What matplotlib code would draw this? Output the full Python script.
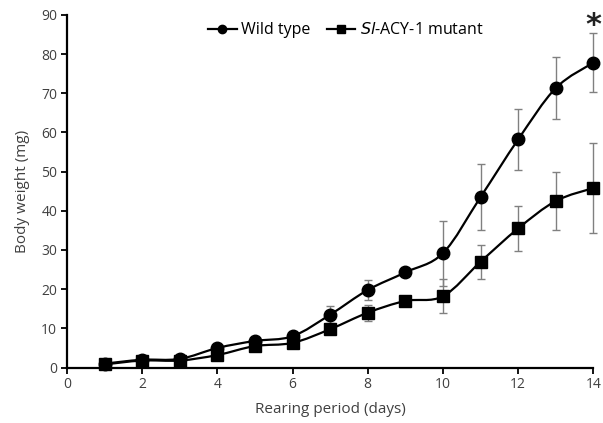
import numpy as np
import matplotlib.pyplot as plt
from matplotlib.path import Path
from matplotlib.patches import PathPatch

plt.rcParams['font.family'] = ['Open Sans', 'DejaVu Sans']

days = [1, 2, 3, 4, 5, 6, 7, 8, 9, 10, 11, 12, 13, 14]
wild = [1.0, 2.0, 2.2, 5.0, 6.8, 8.0, 13.5, 19.8, 24.3, 29.2, 43.5, 58.2, 71.3, 77.8]
wild_err = [0.3, 0.4, 0.5, 0.6, 0.6, 0.8, 2.2, 2.5, 0.8, 8.3, 8.5, 7.7, 8.0, 7.5]
mutant = [0.8, 1.8, 1.8, 3.2, 5.5, 6.3, 9.8, 14.0, 17.0, 18.2, 27.0, 35.5, 42.5, 45.8]
mutant_err = [0.3, 0.4, 0.4, 0.5, 0.6, 0.7, 1.0, 2.0, 1.0, 4.3, 4.3, 5.8, 7.3, 11.5]


def smooth_path(x, y):
    """Excel-style smoothed line through the points (cubic Bezier)."""
    x = np.asarray(x, float)
    y = np.asarray(y, float)
    verts = [(x[0], y[0])]
    codes = [Path.MOVETO]
    n = len(x)
    for i in range(n - 1):
        i0 = max(i - 1, 0)
        i3 = min(i + 2, n - 1)
        c1 = (x[i] + (x[i + 1] - x[i0]) / 6, y[i] + (y[i + 1] - y[i0]) / 6)
        c2 = (x[i + 1] - (x[i3] - x[i]) / 6, y[i + 1] - (y[i3] - y[i]) / 6)
        verts += [c1, c2, (x[i + 1], y[i + 1])]
        codes += [Path.CURVE4] * 3
    return Path(verts, codes)


fig = plt.figure(figsize=(6.03, 4.23), dpi=100)
ax = fig.add_axes([0.111, 0.131, 0.873, 0.834])

for ys, es in [(wild, wild_err), (mutant, mutant_err)]:
    eb = ax.errorbar(days, ys, yerr=es, fmt='none', ecolor='#808080',
                     elinewidth=1, capsize=3, capthick=1, zorder=2)
    for art in eb.lines[1] + eb.lines[2]:
        art.set_clip_on(False)

ax.add_patch(PathPatch(smooth_path(days, wild), fill=False, lw=1.6,
                       edgecolor='black', zorder=3, clip_on=False))
ax.add_patch(PathPatch(smooth_path(days, mutant), fill=False, lw=1.6,
                       edgecolor='black', zorder=3, clip_on=False))
ax.plot(days, wild, 'o', color='black', ms=9, zorder=4, clip_on=False)
ax.plot(days, mutant, 's', color='black', ms=9, zorder=4, clip_on=False)

# legend handles
ax.plot([], [], '-o', color='black', lw=1.6, ms=6, label='Wild type')
ax.plot([], [], '-s', color='black', lw=1.6, ms=6,
        label='$\\mathit{Sl}$-ACY-1 mutant')
ax.legend(loc='upper center', bbox_to_anchor=(0.53, 1.02), ncol=2,
          frameon=False, fontsize=11.5, handlelength=1.8, handletextpad=0.3,
          columnspacing=1.0, labelcolor='black')

ax.text(14, 87.3, '*', ha='center', va='center', fontsize=22,
        fontweight='bold', color='#222222', family='DejaVu Sans',
        clip_on=False)

ax.set_xlim(0, 14)
ax.set_ylim(0, 90)
ax.set_xticks(range(0, 15, 2))
ax.set_yticks(range(0, 91, 10))
ax.spines['top'].set_visible(False)
ax.spines['right'].set_visible(False)
ax.spines['left'].set_linewidth(1.6)
ax.spines['bottom'].set_linewidth(1.6)
ax.tick_params(direction='out', length=4, width=1.3, labelsize=10,
               labelcolor='#404040', pad=3)
ax.set_xlabel('Rearing period (days)', fontsize=11, color='#404040', labelpad=7)
ax.set_ylabel('Body weight (mg)', fontsize=11, color='#404040', labelpad=8)

fig.savefig('out.png', dpi=100)
